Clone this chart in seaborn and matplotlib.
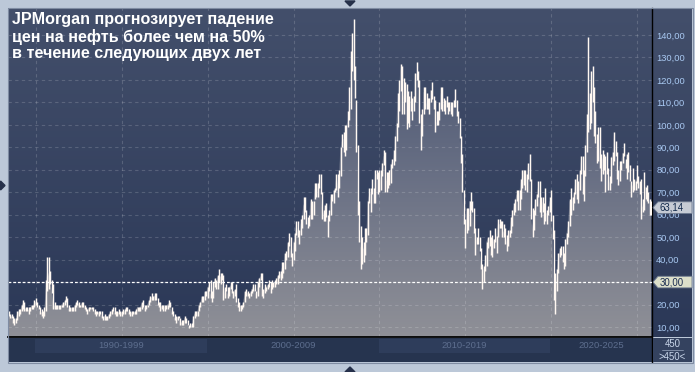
import numpy as np
import pandas as pd
import matplotlib
matplotlib.use("Agg")
import matplotlib.pyplot as plt
import seaborn as sns
from matplotlib.colors import LinearSegmentedColormap
from matplotlib.patches import PathPatch, Polygon, Rectangle

# ---------------- data: monthly Brent, Jun 1988 .. Nov 2025 ----------------
close_1988_1989 = [15.5, 14.8, 14.8, 13.0, 12.5, 13.5, 16.0,
                   17.0, 17.0, 19.5, 20.5, 18.5, 18.0, 18.0, 17.5, 18.5, 19.5, 19.0, 21.0]
hi_1988_1989 = [17, 16, 16, 15, 14, 14, 17,
                18, 18, 20, 22, 21, 19, 19, 19, 19, 20, 20, 22]
lo_1988_1989 = [15, 14, 14, 12, 11, 12, 13,
                15, 16, 17, 18, 17, 17, 17, 16, 17, 18, 18, 19]

close_1990s = [21.0, 19.5, 18.5, 16.5, 16.5, 15.5, 17.5, 27.0, 35.0, 33.0, 30.0, 26.0,
               21.0, 19.5, 19.0, 19.5, 19.5, 19.0, 20.0, 20.5, 21.0, 22.5, 20.0, 18.0,
               18.0, 18.5, 17.5, 19.5, 20.5, 21.0, 20.0, 19.5, 20.5, 20.0, 19.0, 18.0,
               17.5, 18.5, 18.5, 18.5, 18.0, 17.0, 16.5, 16.5, 16.5, 16.5, 15.0, 13.5,
               15.0, 14.0, 14.0, 15.5, 16.5, 17.0, 18.0, 16.5, 16.0, 16.5, 16.5, 16.0,
               16.5, 17.0, 17.0, 18.5, 17.5, 16.5, 16.0, 16.5, 16.5, 16.5, 17.5, 19.0,
               17.5, 19.0, 20.5, 19.5, 18.5, 19.0, 20.0, 21.5, 23.5, 23.0, 23.0, 24.0,
               23.0, 20.0, 20.5, 18.5, 19.5, 17.5, 19.5, 19.0, 20.0, 20.5, 19.0, 16.5,
               15.5, 14.0, 13.5, 14.5, 14.0, 12.0, 12.0, 12.0, 14.0, 12.5, 11.0, 10.0,
               11.5, 10.5, 14.5, 16.0, 15.5, 17.0, 20.0, 21.0, 23.5, 21.5, 25.5, 25.0]
hi_1990s = [23, 21, 20, 19, 18, 17, 19, 31, 41, 41, 35, 31,
            29, 21, 20, 20, 20, 20, 20, 21, 22, 24, 23, 20,
            19, 19, 19, 20, 21, 22, 21, 20, 21, 21, 20, 19,
            18, 19, 19, 19, 19, 18, 17, 17, 17, 17, 17, 15,
            16, 15, 15, 16, 17, 18, 19, 19, 17, 17, 18, 17,
            17, 18, 18, 19, 19, 18, 17, 17, 17, 17, 18, 19,
            19, 19, 21, 22, 20, 20, 20, 22, 24, 25, 24, 25,
            25, 23, 21, 21, 20, 20, 20, 20, 20, 22, 21, 19,
            17, 16, 15, 15, 15, 14, 13, 13, 15, 14, 13, 11,
            12, 12, 15, 17, 17, 17, 20, 21, 24, 24, 26, 26]
lo_1990s = [20, 19, 18, 16, 15, 14, 15, 17, 26, 27, 29, 25,
            18, 18, 18, 18, 18, 18, 19, 19, 20, 21, 19, 17,
            17, 17, 17, 17, 19, 20, 19, 19, 19, 19, 18, 17,
            16, 17, 18, 18, 17, 16, 15, 16, 15, 16, 14, 13,
            13, 13, 13, 14, 15, 16, 17, 16, 15, 15, 16, 15,
            15, 16, 16, 17, 17, 16, 15, 15, 16, 16, 16, 17,
            17, 17, 18, 19, 17, 18, 19, 20, 21, 22, 22, 22,
            22, 20, 19, 17, 18, 17, 17, 18, 18, 19, 19, 16,
            15, 13, 12, 13, 14, 11, 11, 11, 12, 12, 11, 9.5,
            10, 10, 10, 14, 15, 15, 17, 19, 21, 21, 22, 24]

close_2000s = [27.5, 29.0, 25.0, 23.0, 29.5, 31.5, 27.5, 32.5, 31.5, 32.5, 32.5, 23.0,
               27.0, 27.5, 24.5, 27.5, 28.5, 26.0, 25.5, 26.5, 22.5, 20.0, 19.0, 19.5,
               19.5, 21.0, 25.5, 25.5, 25.0, 24.0, 25.5, 27.0, 28.5, 26.5, 24.5, 30.0,
               31.5, 32.5, 27.0, 25.5, 27.5, 28.0, 28.5, 29.5, 27.0, 29.0, 29.5, 30.0,
               31.0, 32.5, 33.5, 33.5, 36.5, 35.5, 42.5, 41.5, 47.0, 48.5, 44.5, 40.5,
               47.5, 51.5, 55.5, 52.5, 51.5, 55.5, 58.5, 64.5, 61.5, 58.5, 54.5, 58.5,
               66.0, 61.0, 66.0, 71.5, 70.0, 73.5, 75.0, 69.5, 62.5, 60.0, 64.5, 61.0,
               57.0, 62.0, 68.0, 66.5, 70.5, 71.5, 77.0, 72.5, 79.0, 90.0, 93.0, 93.5,
               92.0, 100.0, 101.5, 111.5, 127.5, 140.0, 124.0, 115.0, 98.0, 65.0, 53.0, 45.5,
               45.5, 44.5, 49.0, 50.5, 66.0, 69.0, 69.5, 69.0, 69.0, 77.0, 78.0, 78.0]
hi_2000s = [28, 30, 31, 26, 30, 32, 31, 33, 36, 34, 34, 33,
            28, 29, 28, 28, 30, 30, 26, 27, 29, 23, 21, 20,
            20, 21, 26, 27, 26, 25, 26, 27, 29, 29, 26, 30,
            32, 34, 34, 27, 29, 28, 29, 31, 30, 31, 30, 31,
            32, 33, 35, 35, 39, 39, 43, 44, 48, 52, 50, 43,
            48, 52, 57, 57, 53, 58, 60, 68, 68, 62, 59, 60,
            67, 66, 66, 74, 74, 74, 78, 78, 70, 62, 64, 65,
            60, 62, 69, 69, 71, 72, 78, 78, 80, 90, 96, 97,
            100, 100, 106, 117, 133, 141, 147, 126, 111, 91, 66, 55,
            50, 48, 54, 54, 66, 72, 72, 76, 72, 80, 80, 79]
lo_2000s = [23, 26, 23, 21, 23, 28, 27, 27, 30, 29, 31, 22,
            23, 26, 23, 24, 27, 25, 23, 24, 21, 19, 17, 17,
            18, 19, 21, 24, 24, 23, 24, 25, 26, 26, 23, 24,
            28, 31, 24, 23, 25, 26, 27, 28, 25, 27, 28, 28,
            29, 29, 32, 31, 32, 34, 36, 40, 41, 46, 41, 37,
            40, 44, 51, 50, 47, 51, 54, 58, 61, 56, 54, 55,
            58, 58, 60, 67, 68, 68, 72, 69, 58, 57, 57, 59,
            50, 57, 60, 66, 65, 70, 71, 68, 72, 77, 90, 88,
            86, 89, 99, 102, 107, 124, 120, 112, 88, 60, 48, 36,
            38, 39, 42, 48, 51, 65, 61, 69, 65, 65, 76, 69]

close_2010s = [72.5, 77.5, 82.5, 86.0, 75.0, 75.0, 78.0, 76.5, 82.5, 83.5, 85.5, 94.5,
               101.0, 112.0, 117.5, 125.5, 114.5, 111.5, 116.5, 114.5, 102.5, 109.5, 110.5, 107.5,
               111.0, 122.5, 122.5, 119.5, 101.5, 97.5, 105.0, 114.5, 112.5, 108.5, 111.0, 111.0,
               115.5, 111.5, 110.0, 102.5, 100.5, 102.0, 107.5, 114.0, 108.5, 109.0, 111.0, 110.5,
               106.5, 109.0, 108.0, 108.0, 109.5, 112.0, 106.0, 103.0, 95.0, 85.5, 70.0, 57.5,
               52.5, 62.5, 55.0, 66.0, 65.5, 63.5, 52.0, 54.0, 48.5, 49.5, 44.5, 37.0,
               34.5, 36.0, 39.5, 48.0, 49.5, 50.0, 42.5, 47.0, 49.0, 48.5, 50.5, 56.5,
               55.5, 56.0, 53.0, 52.0, 50.5, 47.5, 52.5, 52.5, 57.5, 61.0, 63.5, 66.5,
               69.0, 65.5, 70.0, 75.0, 77.5, 79.5, 74.0, 77.5, 82.5, 75.5, 58.5, 53.5,
               61.5, 66.0, 68.5, 72.5, 64.5, 67.0, 65.0, 60.5, 60.5, 60.5, 62.5, 66.0]
hi_2010s = [80, 80, 83, 89, 88, 79, 79, 80, 82, 85, 89, 95,
            101, 114, 120, 127, 126, 121, 119, 118, 115, 113, 115, 112,
            113, 123, 128, 124, 120, 105, 107, 117, 117, 114, 112, 112,
            115, 119, 113, 111, 106, 106, 110, 117, 117, 112, 111, 113,
            110, 110, 110, 110, 111, 116, 111, 106, 103, 95, 87, 71,
            58, 63, 63, 66, 70, 66, 63, 54, 50, 54, 50, 45,
            38, 37, 42, 48, 50, 53, 50, 51, 49, 54, 50, 58,
            58, 57, 57, 56, 54, 51, 53, 53, 59, 62, 65, 67,
            71, 71, 71, 76, 80, 80, 80, 78, 83, 87, 76, 63,
            62, 67, 69, 75, 75, 68, 68, 65, 72, 62, 64, 68]
lo_2010s = [70, 71, 77, 82, 70, 70, 72, 73, 74, 81, 82, 84,
            93, 99, 106, 115, 105, 105, 110, 98, 101, 99, 106, 102,
            106, 110, 120, 117, 101, 89, 95, 105, 107, 107, 107, 105,
            110, 112, 107, 97, 100, 100, 102, 107, 106, 106, 105, 108,
            105, 106, 105, 104, 108, 108, 104, 101, 94, 83, 70, 56,
            45, 52, 53, 55, 62, 61, 53, 42, 47, 47, 44, 36,
            27, 30, 35, 37, 45, 46, 42, 41, 45, 48, 43, 50,
            54, 54, 50, 50, 47, 44, 46, 50, 52, 55, 60, 61,
            66, 62, 62, 67, 72, 73, 71, 70, 76, 75, 58, 50,
            53, 60, 64, 68, 61, 59, 61, 56, 57, 56, 60, 61]

close_2020s = [58.0, 50.5, 22.5, 25.5, 35.5, 41.0, 43.5, 45.5, 41.0, 38.0, 48.0, 52.0,
               55.5, 66.0, 64.0, 67.0, 69.5, 75.0, 76.0, 72.0, 78.5, 84.5, 70.5, 78.0,
               91.0, 101.0, 107.5, 109.5, 122.5, 115.0, 110.0, 96.5, 88.0, 94.5, 85.5, 86.0,
               84.5, 83.5, 79.5, 79.5, 73.0, 75.0, 85.5, 86.5, 95.5, 87.5, 82.5, 77.0,
               81.5, 83.5, 87.5, 87.5, 81.5, 86.5, 80.5, 79.0, 71.5, 73.0, 72.5, 74.5,
               76.5, 73.0, 74.5, 63.0, 63.5, 67.5, 72.5, 68.0, 67.0, 65.0, 63.14]
hi_2020s = [71, 60, 53, 34, 36, 43, 45, 46, 46, 43, 49, 52,
            57, 67, 72, 68, 70, 76, 78, 75, 80, 86, 86, 80,
            91, 105, 139, 114, 124, 126, 117, 106, 96, 99, 99, 87,
            89, 87, 86, 88, 81, 77, 85, 88, 97, 93, 88, 80,
            84, 84, 87, 92, 85, 87, 88, 82, 75, 81, 76, 75,
            82, 77, 75, 76, 67, 79, 72, 73, 70, 67, 66]
lo_2020s = [57, 49, 22, 16, 26, 34, 41, 42, 39, 36, 37, 47,
            50, 55, 60, 62, 65, 69, 67, 65, 71, 78, 69, 66,
            77, 88, 97, 98, 101, 110, 95, 92, 83, 84, 81, 75,
            78, 80, 70, 78, 71, 71, 74, 82, 84, 86, 76, 73,
            75, 80, 83, 86, 81, 76, 79, 75, 68, 70, 71, 71,
            74, 72, 69, 58, 61, 62, 67, 66, 65, 60, 60]

period_labels = ["1990-1999", "2000-2009", "2010-2019", "2020-2025"]
period_years = [1990, 2000, 2010, 2020]
y_ticks = [10, 20, 30, 40, 50, 60, 70, 80, 90, 100, 110, 120, 130, 140]
level_line = 30.0
bar_count_label = "450"
title_text = "JPMorgan прогнозирует падение\nцен на нефть более чем на 50%\nв течение следующих двух лет"

close = close_1988_1989 + close_1990s + close_2000s + close_2010s + close_2020s
hi = hi_1988_1989 + hi_1990s + hi_2000s + hi_2010s + hi_2020s
lo = lo_1988_1989 + lo_1990s + lo_2000s + lo_2010s + lo_2020s
dates = pd.date_range("1988-06-01", periods=len(close), freq="MS")
df = pd.DataFrame({"i": np.arange(len(close)), "date": dates,
                   "close": close, "hi": hi, "lo": lo})
df["hi"] = np.maximum(df["hi"], df["close"])
df["lo"] = np.minimum(df["lo"], df["close"])

# ---------------- figure ----------------
sns.set_style("dark")
plt.rcParams["font.family"] = ["Liberation Sans", "DejaVu Sans"]

W, H = 695, 372
fig = plt.figure(figsize=(W / 100, H / 100), dpi=100, facecolor="#bcc8d8")


def box(l, t, r, b):
    return [l / W, 1 - b / H, (r - l) / W, (b - t) / H]


YMIN, YMAX = 5.55, 152.0
XMIN, XMAX = -0.5, len(df) - 0.5
grad = np.linspace(0, 1, 256).reshape(-1, 1)
bg_cmap = LinearSegmentedColormap.from_list("bg", ["#2b3857", "#434f6b"])
area_cmap = LinearSegmentedColormap.from_list("ar", ["#8f9097", "#686f84", "#414e6c"])

# right scale panel background
axp = fig.add_axes(box(653, 8, 692, 337))
axp.imshow(grad, extent=[0, 1, 0, 1], aspect="auto", origin="lower", cmap=bg_cmap)
axp.set_axis_off()

# main chart
ax = fig.add_axes(box(8, 8, 652, 337))
ax.imshow(grad, extent=[XMIN, XMAX, YMIN, YMAX], aspect="auto", origin="lower",
          cmap=bg_cmap, zorder=0)
poly = ax.fill_between(df["i"], df["close"], YMIN, facecolor="none", edgecolor="none")
clip = PathPatch(poly.get_paths()[0], transform=ax.transData, facecolor="none",
                 edgecolor="none")
ax.add_patch(clip)
img = ax.imshow(grad, extent=[XMIN, XMAX, YMIN, YMAX], aspect="auto", origin="lower",
                cmap=area_cmap, zorder=1)
img.set_clip_path(clip)

# grid
for v in y_ticks:
    ax.axhline(v, color="white", alpha=0.16, lw=0.8, ls=(0, (3, 3)), zorder=2)
for yr in range(1990, 2026, 5):
    xi = df.index[df["date"] == pd.Timestamp(f"{yr}-01-01")][0]
    ax.axvline(xi, color="white", alpha=0.16, lw=0.8, ls=(0, (3, 3)), zorder=2)

# high-low bars
ax.vlines(df["i"], df["lo"], df["hi"], color="#fff8f2", lw=1.05, zorder=3)
sns.lineplot(data=df, x="i", y="close", ax=ax, color="#6d7589", lw=0.4, alpha=0.5,
             zorder=2.5)

ax.axhline(level_line, color="white", lw=0.9, ls=(0, (2.2, 1.6)), zorder=4)

ax.set_xlim(XMIN, XMAX)
ax.set_ylim(YMIN, YMAX)
ax.set_xticks([])
ax.set_yticks(y_ticks)
# the 30,00 tick is covered by the level tag that shows the same text
ax.set_yticklabels(["" if v == level_line else f"{v:.2f}".replace(".", ",")
                    for v in y_ticks])
ax.yaxis.tick_right()
ax.tick_params(axis="y", length=0, pad=3, labelcolor="#a9c9f2", labelsize=6.7)
ax.set_xlabel("")
ax.set_ylabel("")
for s in ["left", "top"]:
    ax.spines[s].set_visible(False)
ax.spines["right"].set_color("black")
ax.spines["right"].set_linewidth(1.0)
ax.spines["bottom"].set_color("black")
ax.spines["bottom"].set_linewidth(1.3)

# bottom period strip
axb = fig.add_axes(box(8, 338, 652, 362), facecolor="#26344f")
axb.set_xlim(XMIN, XMAX)
axb.set_ylim(0, 1)
for k, (lab, yr) in enumerate(zip(period_labels, period_years)):
    x0 = df.index[df["date"] == pd.Timestamp(f"{yr}-01-01")][0] - 0.5
    x1 = min(x0 + 120, XMAX)
    if k % 2 == 0:
        axb.axvspan(x0, x1, ymin=0.38, ymax=0.96, color="#2e3d5b", lw=0)
    axb.text((x0 + x1) / 2, 0.67, lab, ha="center", va="center", fontsize=6.8,
             color="#5d6e8e")
axb.set_xticks([])
axb.set_yticks([])
for s in ["left", "top", "bottom"]:
    axb.spines[s].set_visible(False)
axb.spines["right"].set_color("black")
axb.spines["right"].set_linewidth(1.0)

# bottom-right counter box
axc = fig.add_axes(box(653, 338, 692, 362), facecolor="#34425f")
axc.set_xlim(0, 1)
axc.set_ylim(0, 1)
axc.set_xticks([])
axc.set_yticks([])
for s in axc.spines.values():
    s.set_visible(False)
axc.text(0.5, 0.76, bar_count_label, ha="center", va="center", fontsize=6.9,
         color="#c9d6ea")
axc.plot([0.22, 0.78], [0.5, 0.5], color="#8c9ab2", lw=0.6)
axc.text(0.5, 0.22, ">" + bar_count_label + "<", ha="center", va="center",
         fontsize=6.9, color="#c9d6ea")

# overlay in pixel coordinates
ov = fig.add_axes([0, 0, 1, 1], facecolor="none")
ov.set_xlim(0, W)
ov.set_ylim(H, 0)
ov.set_axis_off()
ov.set_zorder(10)

ov.add_patch(Rectangle((7.5, 7.5), 685, 355, fill=False, edgecolor="#7f8ca2", lw=0.8))
ov.add_patch(Polygon([[345, 1], [355, 1], [350, 6]], color="#25304a"))
ov.add_patch(Polygon([[345, 372], [355, 372], [350, 367]], color="#25304a"))
ov.add_patch(Polygon([[0.5, 181], [0.5, 190], [5, 185.5]], color="#25304a"))


def to_px(v):
    p = ax.transData.transform((0, v))
    return ov.transData.inverted().transform(p)[1]


def price_tag(v, face, txtc):
    py = to_px(v)
    pts = [[653, py], [658, py - 5.8], [692, py - 5.8], [692, py + 5.8], [658, py + 5.8]]
    ov.add_patch(Polygon(pts, closed=True, facecolor=face, edgecolor="#6f7b90", lw=0.6))
    ov.text(659.5, py + 0.3, f"{v:.2f}".replace(".", ","), ha="left", va="center",
            fontsize=6.9, color=txtc)


price_tag(df["close"].iloc[-1], "#c6cbd4", "#10284a")
price_tag(level_line, "#dcdfca", "#1a2c50")

ov.text(12, 12, title_text, ha="left", va="top", fontsize=11.6, fontweight="bold",
        color="white", linespacing=1.12)

fig.savefig("out.png", dpi=100, facecolor=fig.get_facecolor())
